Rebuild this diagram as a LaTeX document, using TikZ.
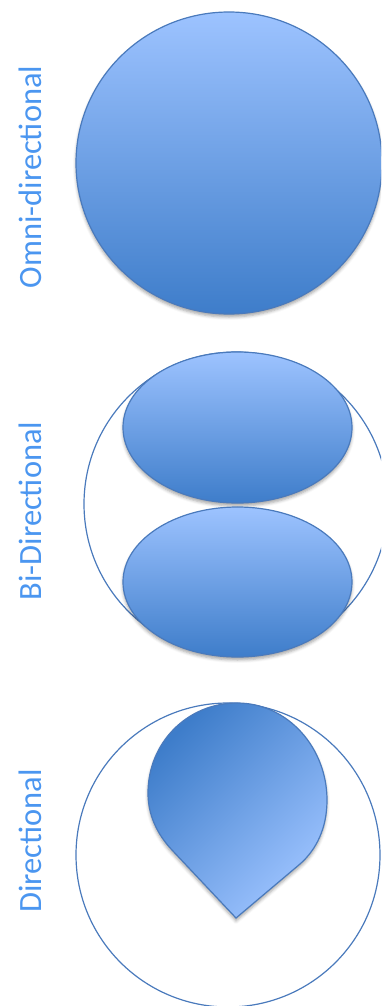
\documentclass[tikz,border=0pt]{standalone}
\usepackage{fontspec}
\newfontfamily\lbl{Carlito}
\usetikzlibrary{shadows.blur}
\definecolor{lightb}{RGB}{157,195,255}
\definecolor{darkb}{RGB}{62,125,202}
\definecolor{edgeb}{RGB}{74,122,188}
\definecolor{textb}{RGB}{75,150,240}
\begin{document}
\begin{tikzpicture}[x=1pt,y=-1pt,
  lobe/.style={draw=edgeb,line width=1.2pt,top color=lightb,bottom color=darkb,
    blur shadow={shadow xshift=0pt,shadow yshift=-3pt,shadow blur radius=3pt,shadow opacity=35}},
  ring/.style={draw=edgeb,line width=1.2pt},
  label/.style={text=textb,rotate=90,font=\lbl\fontsize{32.5}{32.5}\selectfont,inner sep=0pt}]
\useasboundingbox (0,0) rectangle (381,1006);
\clip (0,0) rectangle (381,1006);
% Omni-directional
\node[label] (tomni) at (30,177) {Omni-directional};
\path[lobe] (229,163) ellipse [x radius=153, y radius=151];
\coordinate (omni) at (229,163);
% Bi-directional
\node[label] (tbi) at (30,511) {Bi-Directional};
\draw[ring] (236,504) circle [radius=152];
\coordinate (bi) at (236,504);
\path[lobe] (237.5,427.5) ellipse [x radius=114.5, y radius=75.5];
\path[lobe] (237.5,582) ellipse [x radius=114.5, y radius=75];
% Directional
\node[label] (tdir) at (30,841) {Directional};
\draw[ring] (228,855) circle [radius=152];
\coordinate (dir) at (228,855);
\path[draw=edgeb,line width=1.2pt,top color=darkb,bottom color=lightb,shading angle=45,
    blur shadow={shadow xshift=0pt,shadow yshift=-3pt,shadow blur radius=3pt,shadow opacity=35}]
  (236,918) -- (172,850)
  .. controls (157,834) and (148,815) .. (148,793)
  .. controls (148,743) and (187,703) .. (237,703)
  .. controls (288,703) and (327,748) .. (327,800)
  .. controls (327,828) and (316.5,849.5) .. (300,864)
  -- cycle;
\end{tikzpicture}
\end{document}
